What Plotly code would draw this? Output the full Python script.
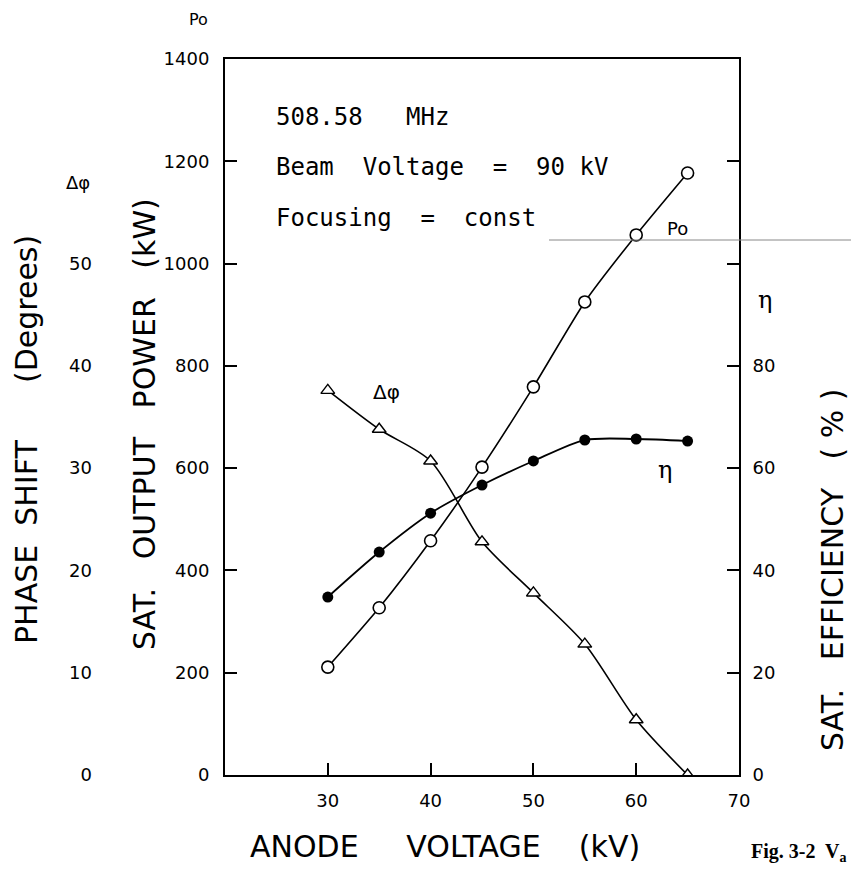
import plotly.graph_objects as go

# ---- data ----
anode_kv = [30, 35, 40, 45, 50, 55, 60, 65]
power_kw = [211, 327, 458, 602, 759, 925, 1056, 1177]
efficiency_pct = [34.8, 43.6, 51.2, 56.7, 61.4, 65.5, 65.7, 65.3]
phase_deg = [37.6, 33.8, 30.7, 22.8, 17.8, 12.8, 5.4, 0.0]

x_ticks = [30, 40, 50, 60, 70]
power_ticks = [0, 200, 400, 600, 800, 1000, 1200, 1400]
eff_ticks = [0, 20, 40, 60, 80, 100, 120]
eff_labels = ["0", "20", "40", "60", "80", " ", " "]
phase_ticks = [0, 10, 20, 30, 40, 50]

# ---- geometry helpers (page pixel -> paper); page has an 8px body margin ----
OFF = 8
W, H = 851, 870
ML, MR, MT, MB = 12, 120, 51, 103
PW = W - ML - MR
PH = H - MT - MB


def px(x):
    return (x - OFF - ML) / PW


def py(y):
    return (H - MB - (y - OFF)) / PH


FONT = "DejaVu Sans"
MONO = "DejaVu Sans Mono"
TICKFONT = dict(family=FONT, size=18, color="black")

fig = go.Figure()

fig.add_trace(go.Scatter(
    x=anode_kv, y=power_kw, mode="lines+markers", yaxis="y",
    line=dict(color="black", width=1.6, shape="spline", smoothing=0.6),
    marker=dict(symbol="circle", size=12, color="white",
                line=dict(color="black", width=1.6)),
    showlegend=False, name="Po"))

fig.add_trace(go.Scatter(
    x=anode_kv, y=efficiency_pct, mode="lines+markers", yaxis="y2",
    line=dict(color="black", width=1.8, shape="spline", smoothing=0.8),
    marker=dict(symbol="circle", size=11, color="black"),
    showlegend=False, name="η"))

fig.add_trace(go.Scatter(
    x=anode_kv, y=phase_deg, mode="lines+markers", yaxis="y3",
    line=dict(color="black", width=1.6, shape="spline", smoothing=0.8),
    marker=dict(symbol="triangle-up", size=12, color="white",
                line=dict(color="black", width=1.4)),
    showlegend=False, name="Δφ"))

fig.update_layout(
    width=W, height=H,
    margin=dict(l=ML, r=MR, t=MT, b=MB),
    paper_bgcolor="white", plot_bgcolor="white",
    xaxis=dict(
        domain=[px(225), 1], range=[20, 70],
        tickvals=x_ticks, ticktext=[str(v) for v in x_ticks],
        ticks="inside", ticklen=12, tickwidth=1.5, tickcolor="black",
        showline=True, linewidth=2, linecolor="black", mirror=True,
        showgrid=False, zeroline=False, tickfont=TICKFONT,
        ticklabelstandoff=8,
    ),
    yaxis=dict(
        range=[0, 1400], tickvals=power_ticks,
        ticks="inside", ticklen=12, tickwidth=1.5, tickcolor="black",
        showline=True, linewidth=2, linecolor="black",
        showgrid=False, zeroline=False, tickfont=TICKFONT,
        ticklabelstandoff=10,
    ),
    yaxis2=dict(
        range=[0, 140], tickvals=eff_ticks, ticktext=eff_labels,
        overlaying="y", side="right", anchor="x",
        ticks="inside", ticklen=12, tickwidth=1.5, tickcolor="black",
        showline=True, linewidth=2, linecolor="black",
        showgrid=False, zeroline=False, tickfont=TICKFONT,
        ticklabelstandoff=8,
    ),
    yaxis3=dict(
        range=[0, 70], tickvals=phase_ticks, overlaying="y", side="left",
        anchor="free", position=px(96),
        ticks="", showline=False, showgrid=False, zeroline=False,
        tickfont=TICKFONT, ticklabelstandoff=4,
    ),
)

ann = []


def add_text(text, x, y, size=18, angle=0, family=FONT, xanchor="center",
             yanchor="middle"):
    ann.append(dict(text=text, x=px(x), y=py(y), xref="paper", yref="paper",
                    showarrow=False, textangle=angle, xanchor=xanchor,
                    yanchor=yanchor, borderpad=0,
                    font=dict(family=family, size=size, color="black")))


# axis titles
add_text("PHASE  SHIFT      (Degrees)", 26, 440, size=30, angle=-90)
add_text("SAT.   OUTPUT   POWER   (kW)", 144, 424, size=30, angle=-90)
add_text("SAT.   EFFICIENCY   ( % )", 832, 570, size=30, angle=-90)
add_text("ANODE     VOLTAGE    (kV)", 445, 846, size=30)
add_text("<b>Fig. 3-2  V<sub>a</sub></b>", 799, 852, size=20,
         family="Liberation Serif")

# axis symbol labels
add_text("Po", 198, 20, size=16)
add_text("Δφ", 78, 182, size=18)
add_text("η", 765, 300, size=24, family="DejaVu Serif")

# in-plot labels
add_text("Po", 677, 228, size=18)
add_text("Δφ", 386, 392, size=20)
add_text("η", 665, 470, size=24, family="DejaVu Serif")

# condition text
add_text("508.58   MHz", 275, 117, size=24, family=MONO, xanchor="left")
add_text("Beam  Voltage  =  90 kV", 275, 167, size=24, family=MONO, xanchor="left")
add_text("Focusing  =  const", 275, 218, size=24, family=MONO, xanchor="left")

fig.update_layout(annotations=ann)

# thin scan line crossing the right side
fig.add_shape(type="line", xref="paper", yref="paper",
              x0=px(549), x1=px(859), y0=py(240), y1=py(240),
              line=dict(color="#888888", width=1))

fig.write_html("out.html")
